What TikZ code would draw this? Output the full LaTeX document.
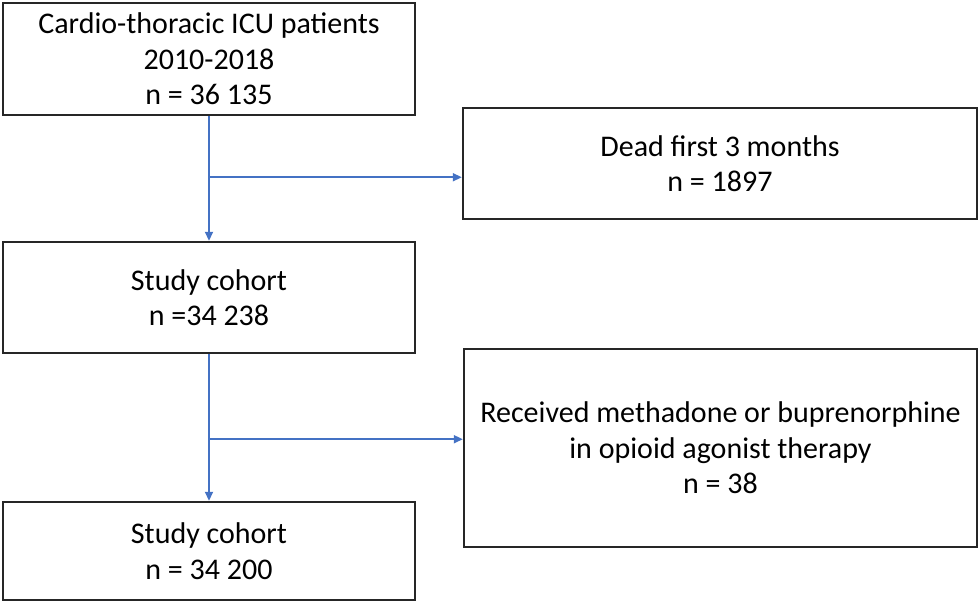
\documentclass[tikz,border=0pt]{standalone}
\usepackage{fontspec}
\setmainfont{Carlito}
\usepackage{tikz}
\usetikzlibrary{arrows.meta, positioning, calc}
\definecolor{FlowBlue}{HTML}{4472C4}

\begin{document}
\begin{tikzpicture}[x=0.5pt, y=-0.5pt, >={Triangle[length=4.5pt, width=4pt]},
  box/.style={draw=black!85, line width=1.2pt, align=center, inner sep=0pt,
    font=\fontsize{15}{17.8}\selectfont},
  flow/.style={->, FlowBlue, line width=0.9pt}]
  \useasboundingbox (0,0) rectangle (980,604);
  % Main column
  \node[box, minimum width=206pt, minimum height=56pt] (all) at (209,59)
    {Cardio-thoracic ICU patients\\2010-2018\\n = 36 135};
  \node[box, minimum width=206pt, minimum height=55.5pt] (cohort) at (209,297.5)
    {Study cohort\\n =34 238};
  \node[box, minimum width=206pt, minimum height=49pt] (final) at (209,551)
    {Study cohort\\n = 34 200};
  % Exclusions
  \node[box, minimum width=257pt, minimum height=55.5pt] (dead) at (720,163.5)
    {Dead first 3 months\\n = 1897};
  \node[box, minimum width=256.5pt, minimum height=99pt] (oat) at (720.5,448)
    {Received methadone or buprenorphine\\in opioid agonist therapy\\n = 38};
  % Arrows
  \draw[flow] (all.south) -- (cohort.north);
  \coordinate (split1) at ($(all.south)!0.49!(cohort.north)$);
  \draw[flow] (split1) -- (split1 -| dead.west);
  \draw[flow] (cohort.south) -- (final.north);
  \coordinate (split2) at ($(cohort.south)!0.58!(final.north)$);
  \draw[flow] (split2) -- (split2 -| oat.west);
\end{tikzpicture}
\end{document}
